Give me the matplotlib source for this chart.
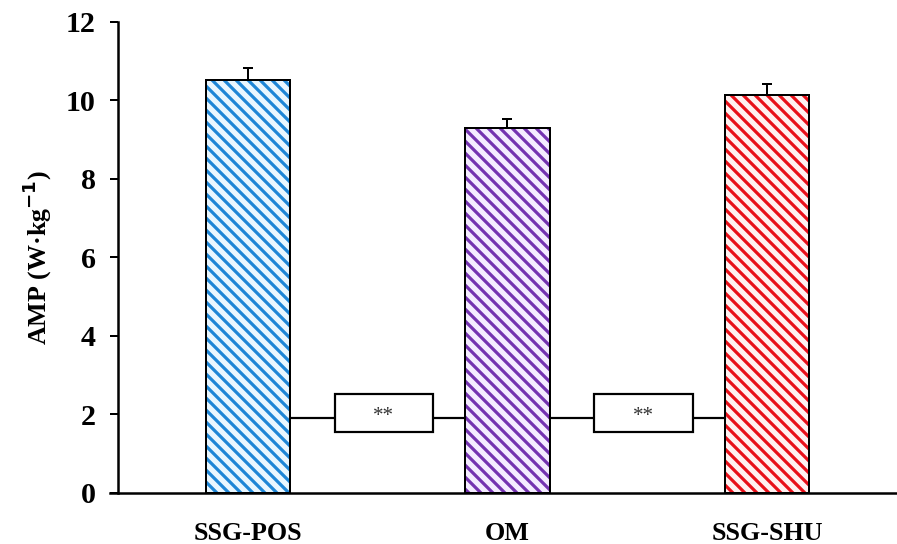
import matplotlib
matplotlib.use("Agg")
import matplotlib.pyplot as plt

categories = ["SSG-POS", "OM", "SSG-SHU"]
values = [10.52, 9.29, 10.15]
errors = [0.30, 0.23, 0.28]
yticks = [0, 2, 4, 6, 8, 10, 12]
sig_label = "**"
sig_level = 1.91

hatch_colors = ["#1f86d6", "#7433b0", "#e8101a"]
face_colors = ["#eaf7ff", "#f4ecff", "#fff1f1"]

plt.rcParams['font.family'] = ['Liberation Serif', 'DejaVu Serif']
plt.rcParams['hatch.linewidth'] = 3.2

DPI = 72
fig = plt.figure(figsize=(897 / DPI, 544 / DPI), dpi=DPI)
ax = fig.add_axes([0.1315, 0.0938, 0.8685, 0.9596 - 0.0938])

x = list(range(len(categories)))
w = 0.324
ax.bar(x, values, width=w, color=face_colors, edgecolor=hatch_colors,
       hatch='\\\\', linewidth=0, zorder=2)
ax.bar(x, values, width=w, fill=False, edgecolor='black', linewidth=2, zorder=3)
ax.errorbar(x, values, yerr=[[0] * len(errors), errors], fmt='none',
            ecolor='black', elinewidth=2, capsize=5, capthick=2, zorder=1)

# significance brackets
for i in range(len(categories) - 1):
    x0 = x[i] + w / 2
    x1 = x[i + 1] - w / 2
    ax.plot([x0, x1], [sig_level, sig_level], color='black', lw=2.2, zorder=4)
    bx0 = x[i] + 0.335
    bx1 = x[i] + 0.713
    ax.add_patch(plt.Rectangle((bx0, 1.55), bx1 - bx0, 0.97, facecolor='white',
                               edgecolor='black', lw=2.2, zorder=5))
    ax.text((bx0 + bx1) / 2, 1.95, sig_label, ha='center', va='center',
            fontsize=21, color='#333333', zorder=6)

ax.set_xlim(-0.5, 2.5)
ax.set_ylim(0, 12)
ax.set_yticks(yticks)
ax.set_yticklabels([str(t) for t in yticks], fontsize=30, fontweight='bold')
ax.set_xticks(x)
ax.set_xticklabels(categories, fontsize=26, fontweight='bold')
ax.tick_params(axis='x', length=0, pad=29)
ax.tick_params(axis='y', length=8, width=2, pad=14, direction='out')
ax.set_ylabel("AMP (W·kg$^{\\mathbf{-1}}$)", fontsize=26, fontweight='bold', labelpad=12)
for s in ['top', 'right']:
    ax.spines[s].set_visible(False)
ax.spines['left'].set_linewidth(2.5)
ax.spines['bottom'].set_linewidth(2.5)
ax.spines['bottom'].set_bounds(-0.53, 2.5)
ax.spines['bottom'].set_clip_on(False)

fig.savefig("out.png", dpi=DPI)
